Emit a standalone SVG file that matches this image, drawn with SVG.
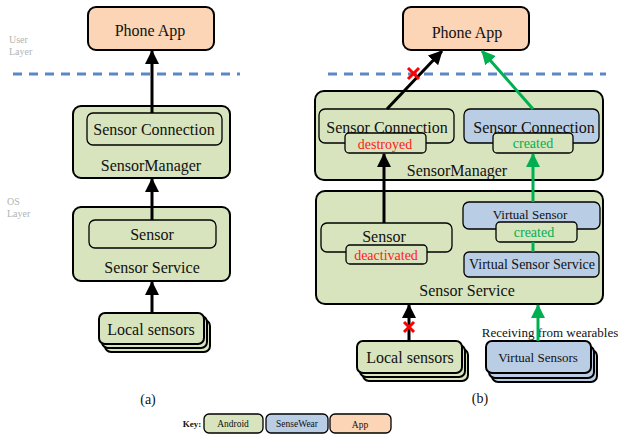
<svg xmlns="http://www.w3.org/2000/svg" width="618" height="436" viewBox="0 0 618 436">
<style>
text{font-family:"Liberation Serif","Times New Roman",serif;fill:#111;text-anchor:middle;dominant-baseline:central}
.outer{stroke:#000;stroke-width:2}
.inner{stroke:#000;stroke-width:1.3}
.g{fill:#d7e4bd}
.b{fill:#b9cde5}
.o{fill:#fbd5b5}
.t16{font-size:16px}
.t14{font-size:14px}
.t13{font-size:13px}
.red{fill:#ff1a1a}
.grn{fill:#00b050}
.layer{font-size:10px;fill:#b3b3b3;text-anchor:start;dominant-baseline:auto}
.ak{stroke:#000;stroke-width:3;fill:none}
.ag{stroke:#00b050;stroke-width:3;fill:none}
.x{stroke:#ff0000;stroke-width:3}
.dash{stroke:#5b87c5;stroke-width:3;stroke-dasharray:9 7}
</style>
<defs>
<marker id="mk" markerUnits="userSpaceOnUse" markerWidth="14" markerHeight="14" viewBox="0 0 14 14" refX="13" refY="7" orient="auto"><path d="M0,0 L14,7 L0,14 Z" fill="#000"/></marker>
<marker id="mg" markerUnits="userSpaceOnUse" markerWidth="14" markerHeight="14" viewBox="0 0 14 14" refX="13" refY="7" orient="auto"><path d="M0,0 L14,7 L0,14 Z" fill="#00b050"/></marker>
</defs>

<!-- layer labels and separators -->
<text class="layer" x="9" y="43">User</text>
<text class="layer" x="9" y="55">Layer</text>
<text class="layer" x="7" y="205">OS</text>
<text class="layer" x="7" y="217">Layer</text>
<line class="dash" x1="13" y1="74" x2="240" y2="74"/>
<line class="dash" x1="328" y1="74" x2="606" y2="74"/>

<!-- (a) -->
<g id="a-phone-app">
<rect class="outer o" x="88" y="7" width="126" height="43" rx="8"/>
<text class="t16" x="150" y="30">Phone App</text>
</g>
<g id="a-sensor-manager">
<rect class="outer g" x="73" y="106" width="157" height="72" rx="8"/>
<text class="t16" x="151" y="165">SensorManager</text>
</g>
<g id="a-sensor-connection">
<rect class="inner g" x="87" y="113" width="135" height="32" rx="6"/>
<text class="t16" x="154" y="129">Sensor Connection</text>
</g>
<g id="a-sensor-service">
<rect class="outer g" x="73" y="207" width="157" height="74" rx="8"/>
<text class="t16" x="152" y="267">Sensor Service</text>
</g>
<g id="a-sensor">
<rect class="inner g" x="89" y="220" width="127" height="28" rx="6"/>
<text class="t16" x="152" y="234">Sensor</text>
</g>
<g id="a-local-sensors">
<rect class="outer g" x="105" y="320" width="105" height="32" rx="6"/>
<rect class="outer g" x="102" y="316" width="105" height="32" rx="6"/>
<rect class="outer g" x="99" y="313" width="105" height="31" rx="6"/>
<text class="t16" x="151" y="329">Local sensors</text>
</g>
<text class="t14" x="148" y="399">(a)</text>

<!-- (b) -->
<g id="b-phone-app">
<rect class="outer o" x="403" y="7" width="126" height="43" rx="8"/>
<text class="t16" x="467" y="32">Phone App</text>
</g>
<g id="b-sensor-manager">
<rect class="outer g" x="315" y="91" width="288" height="89" rx="9"/>
<text class="t16" x="457" y="170">SensorManager</text>
</g>
<g id="b-sensor-connection-1">
<rect class="inner g" x="319" y="109" width="135" height="34" rx="6"/>
<text class="t16" x="387" y="127">Sensor Connection</text>
<rect class="inner g" x="345" y="133" width="81" height="20" rx="4"/>
<text class="t14 red" x="385" y="144">destroyed</text>
</g>
<g id="b-sensor-connection-2">
<rect class="inner b" x="464" y="109" width="135" height="34" rx="6"/>
<text class="t16" x="534" y="127">Sensor Connection</text>
<rect class="inner g" x="493" y="133" width="80" height="20" rx="4"/>
<text class="t14 grn" x="533" y="143">created</text>
</g>
<g id="b-sensor-service">
<rect class="outer g" x="316" y="191" width="287" height="113" rx="9"/>
<text class="t16" x="467" y="290">Sensor Service</text>
</g>
<g id="b-sensor">
<rect class="inner g" x="321" y="223" width="131" height="29" rx="6"/>
<text class="t16" x="384" y="236">Sensor</text>
<rect class="inner g" x="346" y="245" width="81" height="19" rx="4"/>
<text class="t14 red" x="386" y="255">deactivated</text>
</g>
<g id="b-virtual-sensor">
<rect class="inner b" x="463" y="202" width="137" height="27" rx="6"/>
<text class="t13" x="530" y="214">Virtual Sensor</text>
<rect class="inner g" x="496" y="222" width="81" height="20" rx="4"/>
<text class="t14 grn" x="534" y="232">created</text>
</g>
<g id="b-virtual-sensor-service">
<rect class="inner b" x="464" y="252" width="135" height="25" rx="5"/>
<text class="t14" x="532" y="264">Virtual Sensor Service</text>
</g>
<g id="b-local-sensors">
<rect class="outer g" x="363" y="349" width="105" height="32" rx="6"/>
<rect class="outer g" x="360" y="345" width="105" height="32" rx="6"/>
<rect class="outer g" x="357" y="341" width="105" height="32" rx="6"/>
<text class="t16" x="410" y="357">Local sensors</text>
</g>
<g id="b-virtual-sensors">
<rect class="outer b" x="492" y="350" width="105" height="32" rx="6"/>
<rect class="outer b" x="489" y="346" width="105" height="32" rx="6"/>
<rect class="outer b" x="486" y="341" width="105" height="32" rx="6"/>
<text class="t13" x="538" y="357">Virtual Sensors</text>
</g>
<text class="t13" x="550" y="332">Receiving from wearables</text>
<text class="t14" x="480" y="398">(b)</text>

<!-- connectors -->
<g id="connectors">
<line class="ak" x1="152" y1="113" x2="152" y2="51" marker-end="url(#mk)"/>
<line class="ak" x1="152" y1="220" x2="152" y2="179" marker-end="url(#mk)"/>
<line class="ak" x1="152" y1="313" x2="152" y2="282" marker-end="url(#mk)"/>
<line class="ak" x1="387" y1="109" x2="442" y2="51" marker-end="url(#mk)"/>
<line class="ag" x1="533" y1="109" x2="482" y2="51" marker-end="url(#mg)"/>
<line class="ak" x1="384" y1="223" x2="384" y2="154" marker-end="url(#mk)"/>
<line class="ag" x1="533" y1="202" x2="533" y2="154" marker-end="url(#mg)"/>
<line class="ag" x1="533" y1="242" x2="533" y2="252"/>
<line class="ak" x1="409" y1="341" x2="409" y2="305" marker-end="url(#mk)"/>
<line class="ag" x1="538" y1="341" x2="538" y2="305" marker-end="url(#mg)"/>
<line class="x" x1="408" y1="68" x2="419" y2="79"/>
<line class="x" x1="419" y1="68" x2="408" y2="79"/>
<line class="x" x1="404" y1="322" x2="414" y2="332"/>
<line class="x" x1="414" y1="322" x2="404" y2="332"/>
</g>

<!-- key -->
<g id="key">
<text x="192" y="424" style="font-size:9px;font-weight:bold">Key:</text>
<rect class="inner g" x="204" y="414" width="59" height="19" rx="5"/>
<text x="233" y="424" style="font-size:9.5px">Android</text>
<rect class="inner b" x="266" y="414" width="62" height="19" rx="5"/>
<text x="297" y="424" style="font-size:9.5px">SenseWear</text>
<rect class="inner o" x="330" y="414" width="61" height="19" rx="5"/>
<text x="360" y="425" style="font-size:9.5px">App</text>
</g>
</svg>
